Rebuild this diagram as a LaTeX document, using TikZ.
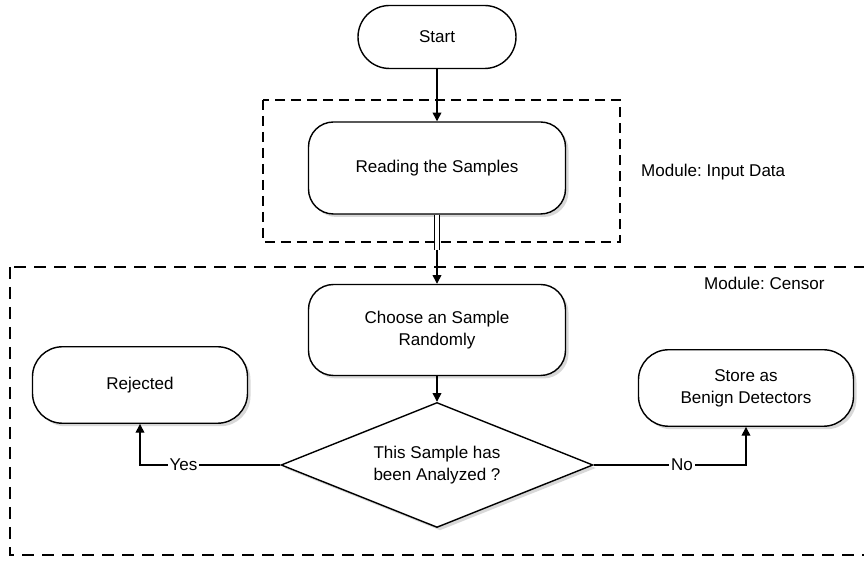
\documentclass[tikz,border=0pt]{standalone}
\usepackage{fontspec}
\setmainfont{Liberation Sans}
\frenchspacing
\usetikzlibrary{shapes.geometric, arrows.meta, positioning, calc, shadows}

\begin{document}
\begin{tikzpicture}[
    font=\fontsize{9.7}{12.5}\selectfont,
    procbox/.style={rectangle, rounded corners=0.5cm, minimum width=5.14cm, minimum height=1.84cm, align=center, draw=black, line width=0.8pt, fill=white, drop shadow={shadow xshift=0.06cm, shadow yshift=-0.06cm, fill=black!30}},
    sidebox/.style={procbox, rounded corners=0.6cm, minimum width=4.3cm, minimum height=1.53cm},
    decision/.style={diamond, aspect=2.5, minimum width=6.24cm, minimum height=2.5cm, inner sep=0pt, align=center, draw=black, line width=0.8pt, fill=white, drop shadow={shadow xshift=0.06cm, shadow yshift=-0.06cm, fill=black!30}},
    arrow/.style={line width=0.8pt, -{Triangle[length=5pt, width=5pt]}},
    lbl/.style={fill=white, inner sep=1pt}
]
    \useasboundingbox (0, 0) rectangle (17.28, -11.3);

    % Module boxes
    \draw [line width=1.3pt, dash pattern=on 0.2cm off 0.12cm] (5.26, -2.0) rectangle (12.4, -4.84);
    \node [anchor=west] (modinput) at (12.7, -3.44) {Module: Input Data};
    \draw [line width=0.8pt, dash pattern=on 0.24cm off 0.16cm] (0.2, -5.34) rectangle (17.6, -11.1);
    \node [anchor=west] (modcensor) at (13.96, -5.66) {Module: Censor};

    % Nodes
    \node (start) [rectangle, rounded corners=0.63cm, minimum width=3.16cm, minimum height=1.26cm, draw=black, line width=0.8pt, fill=white] at (8.74, -0.74) {Start};
    \node (read) [procbox] at (8.74, -3.36) {Reading the Samples};
    \node (choose) [procbox, minimum height=1.82cm] at (8.74, -6.6) {Choose an Sample\\Randomly};
    \node (dec) [decision] at (8.74, -9.3) {This Sample has\\been Analyzed ?};
    \node (rej) [sidebox] at (2.8, -7.7) {Rejected};
    \node (store) [sidebox] at (14.92, -7.76) {Store as\\Benign Detectors};

    % Connections
    \coordinate (mid) at (8.74, -5.0);
    \draw [arrow] (start) -- (read);
    \draw [line width=0.6pt, double, double distance=2pt] (read.south) -- (mid);
    \draw [arrow] (mid) -- (choose.north);
    \draw [arrow] (choose) -- (dec);
    \draw [arrow] (dec.west) -- node [lbl, pos=0.69] {Yes} (dec.west -| rej.south) -- (rej.south);
    \draw [arrow] (dec.east) -- node [lbl, pos=0.58] {No} (dec.east -| store.south) -- (store.south);
\end{tikzpicture}
\end{document}
